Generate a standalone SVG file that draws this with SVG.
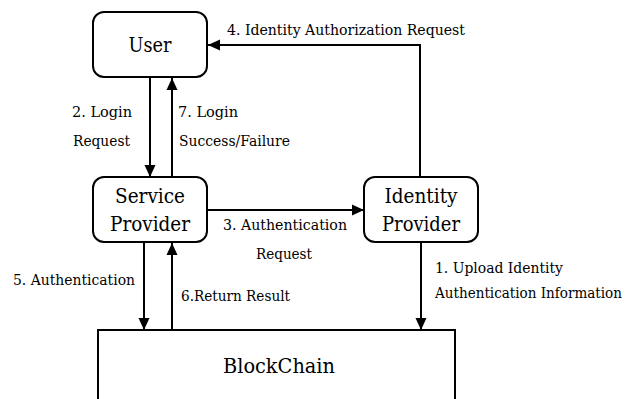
<svg xmlns="http://www.w3.org/2000/svg" width="631" height="399" viewBox="0 0 631 399">
<style>
.box{fill:#fff;stroke:#000;stroke-width:2}
text{font-family:'DejaVu Serif',serif;font-stretch:condensed;fill:#000}
.n{font-size:21px;text-anchor:middle}
.l{font-size:15.5px}
.c{stroke:#000;stroke-width:2;fill:none;marker-end:url(#ah)}
</style>
<defs>
<marker id="ah" markerWidth="12" markerHeight="12" viewBox="0 0 12 12" refX="12" refY="6" orient="auto" markerUnits="userSpaceOnUse">
<path d="M0,0.5 L12,6 L0,11.5 Z" fill="#000"/>
</marker>
</defs>
<rect width="631" height="399" fill="#fff"/>
<g id="connectors">
<path class="c" d="M420,177 V45 H208"/>
<path class="c" d="M150,77 V177"/>
<path class="c" d="M172,177 V78"/>
<path class="c" d="M207,210 H364"/>
<path class="c" d="M144,242 V330"/>
<path class="c" d="M172,330 V243"/>
<path class="c" d="M421,242 V330"/>
</g>
<g id="labels">
<text class="l" x="72" y="117" textLength="60" lengthAdjust="spacingAndGlyphs">2. Login</text>
<text class="l" x="73" y="146" textLength="57" lengthAdjust="spacingAndGlyphs">Request</text>
<text class="l" x="178" y="117" textLength="60" lengthAdjust="spacingAndGlyphs">7. Login</text>
<text class="l" x="179" y="146" textLength="111" lengthAdjust="spacingAndGlyphs">Success/Failure</text>
<text class="l" x="227" y="35" textLength="238" lengthAdjust="spacingAndGlyphs">4. Identity Authorization Request</text>
<text class="l" x="223" y="230" textLength="124" lengthAdjust="spacingAndGlyphs">3. Authentication</text>
<text class="l" x="256" y="259" textLength="56" lengthAdjust="spacingAndGlyphs">Request</text>
<text class="l" x="13" y="285" textLength="122" lengthAdjust="spacingAndGlyphs">5. Authentication</text>
<text class="l" x="181" y="301" textLength="109" lengthAdjust="spacingAndGlyphs">6.Return Result</text>
<text class="l" x="435" y="273" textLength="128" lengthAdjust="spacingAndGlyphs">1. Upload Identity</text>
<text class="l" x="435" y="298" textLength="187" lengthAdjust="spacingAndGlyphs">Authentication Information</text>
</g>
<g id="user">
<rect class="box" x="93" y="12" width="114" height="65" rx="11"/>
<text class="n" x="150" y="52" textLength="43" lengthAdjust="spacingAndGlyphs">User</text>
</g>
<g id="service-provider">
<rect class="box" x="93" y="177" width="114" height="65" rx="11"/>
<text class="n" x="150" y="203" textLength="70" lengthAdjust="spacingAndGlyphs">Service</text>
<text class="n" x="150" y="231" textLength="80" lengthAdjust="spacingAndGlyphs">Provider</text>
</g>
<g id="identity-provider">
<rect class="box" x="364" y="177" width="114" height="65" rx="11"/>
<text class="n" x="421" y="203" textLength="73" lengthAdjust="spacingAndGlyphs">Identity</text>
<text class="n" x="421" y="231" textLength="78" lengthAdjust="spacingAndGlyphs">Provider</text>
</g>
<g id="blockchain">
<rect class="box" x="98" y="330" width="357" height="80"/>
<text class="n" x="279" y="373" textLength="112" lengthAdjust="spacingAndGlyphs">BlockChain</text>
</g>
</svg>
